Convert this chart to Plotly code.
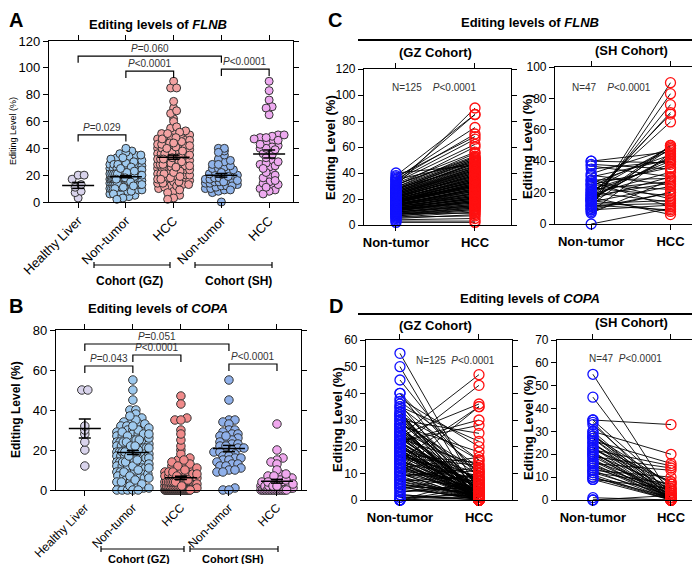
import numpy as np
import plotly.graph_objects as go

# ---------------- DATA ----------------
groups_A = ["Healthy Liver", "Non-tumor", "HCC", "Non-tumor", "HCC"]
paired_labels = ["Non-tumor", "HCC"]

flnb_healthy = [3, 7, 8, 11, 13, 17, 20, 20]
flnb_gz_nt = [
    12, 18, 25, 9, 31, 15, 22, 7, 19, 28, 14, 35, 11, 20, 16, 24, 6, 13, 27, 17,
    21, 10, 33, 19, 8, 23, 15, 29, 12, 18, 38, 14, 22, 5, 26, 16, 20, 11, 30, 17,
    13, 24, 9, 19, 36, 15, 21, 12, 27, 18, 7, 23, 16, 32, 10, 20, 14, 25, 19, 4,
    28, 17, 22, 11, 34, 15, 18, 26, 13, 21, 8, 24, 16, 30, 12, 19, 23, 10, 37, 17,
    14, 20, 27, 9, 22, 15, 31, 18, 11, 25, 16, 3, 21, 13, 29, 19, 24, 12, 17, 33,
    8, 20, 15, 26, 18, 40, 14, 22, 10, 28, 16, 19, 23, 6, 13, 21, 17, 35, 11, 25,
    18, 15, 20, 12, 2]
flnb_gz_hcc = [
    25, 34, 48, 15, 52, 28, 40, 12, 30, 45, 22, 70, 18, 36, 26, 42, 10, 20, 50, 31,
    38, 16, 62, 33, 14, 41, 24, 55, 21, 29, 85, 23, 37, 8, 47, 27, 35, 19, 60, 32,
    20, 44, 13, 30, 75, 25, 39, 17, 49, 34, 11, 43, 28, 56, 15, 36, 22, 46, 33, 5,
    51, 29, 40, 18, 66, 24, 31, 48, 21, 38, 12, 44, 27, 90, 19, 35, 42, 14, 68, 30,
    23, 37, 50, 9, 41, 26, 53, 32, 16, 45, 28, 3, 39, 20, 52, 34, 43, 18, 29, 85,
    13, 36, 24, 47, 31, 46, 22, 40, 15, 51, 27, 33, 42, 7, 21, 38, 30, 48, 17, 44,
    32, 26, 35, 19, 2]
flnb_sh_nt = [0, 7, 8, 9, 10, 10, 11, 12, 12, 13, 14, 14, 15, 15, 16, 16, 17, 17,
              18, 18, 19, 20, 20, 21, 22, 23, 24, 25, 25, 26, 27, 28, 30, 31, 32, 35,
              38, 40, 40, 12, 15, 22, 9, 19, 28, 16, 37]
flnb_sh_hcc = [10, 28, 45, 12, 90, 20, 83, 9, 50, 15, 76, 24, 48, 8, 71, 30, 42, 6,
               70, 26, 65, 40, 14, 49, 38, 18, 47, 22, 36, 44, 11, 29, 41, 25, 48, 40,
               35, 39, 46, 13, 50, 27, 20, 33, 16, 43, 30]

copa_healthy = [12, 20, 24, 28, 30, 32, 50, 50]
copa_gz_nt = [
    55, 50, 45, 40, 40, 38, 36, 35, 34, 33, 32, 32, 31, 30, 30, 29, 28, 28, 27, 27,
    26, 26, 25, 25, 24, 24, 23, 23, 22, 22, 22, 21, 21, 20, 20, 20, 19, 19, 18, 18,
    18, 17, 17, 16, 16, 15, 15, 15, 14, 14, 13, 13, 12, 12, 11, 11, 10, 10, 9, 9,
    8, 8, 7, 7, 6, 6, 5, 5, 4, 3, 2, 1, 0, 0, 0, 35, 33, 31, 29, 27,
    25, 24, 23, 21, 20, 19, 18, 17, 16, 14, 12, 10, 8, 6, 4, 2, 0, 30, 28, 26,
    24, 22, 20, 18, 16, 14, 12, 10, 37, 32, 28, 25, 22, 19, 17, 15, 13, 11, 9, 7,
    5, 3, 1, 0, 21]
copa_gz_hcc = [
    3, 0, 8, 10, 2, 20, 0, 12, 5, 0, 15, 4, 0, 9, 1, 6, 0, 18, 3, 0,
    11, 2, 0, 7, 47, 0, 5, 13, 0, 4, 2, 8, 0, 43, 3, 0, 10, 1, 6, 0,
    2, 14, 0, 5, 0, 35, 3, 0, 8, 1, 0, 4, 16, 0, 2, 7, 0, 3, 12, 0,
    5, 1, 0, 9, 2, 0, 4, 0, 1, 6, 0, 2, 0, 3, 1, 22, 0, 6, 11, 2,
    0, 36, 4, 0, 8, 1, 0, 5, 13, 0, 3, 7, 0, 2, 10, 0, 5, 25, 0, 4,
    1, 30, 3, 0, 9, 2, 6, 0, 15, 1, 0, 4, 28, 0, 7, 3, 0, 35, 11, 2,
    0, 5, 1, 8, 0]
copa_sh_nt = [55, 45, 35, 35, 34, 33, 30, 30, 29, 28, 28, 27, 26, 25, 25, 24, 23, 23,
              22, 21, 21, 20, 20, 19, 19, 18, 17, 17, 16, 16, 15, 15, 14, 13, 13, 12,
              12, 11, 10, 10, 9, 9, 27, 22, 1, 0, 0]
copa_sh_hcc = [2, 0, 33, 5, 0, 3, 20, 1, 0, 7, 4, 0, 16, 2, 0, 8, 0, 3, 15, 1, 0, 6,
               0, 14, 2, 0, 5, 1, 13, 0, 4, 0, 3, 10, 0, 2, 7, 0, 1, 0, 5, 0, 3, 8, 0,
               2, 0]

p_A = [(0, 1, 50, "=0.029"), (1, 2, 97.5, "<0.0001"), (0, 3, 108.8, "=0.060"), (3, 4, 99, "<0.0001")]
p_B = [(0, 1, 62, "=0.043"), (1, 2, 67.5, "<0.0001"), (0, 3, 73, "=0.051"), (3, 4, 63, "<0.0001")]
p_paired = "<0.0001"

# ---------------- STYLE / LAYOUT HELPERS ----------------
W, H = 700, 564
FONT = "Liberation Sans, Arial, sans-serif"


def px(x):
    return x / W


def py(y):
    return 1 - y / H


colors_A = ["#d9d4ec", "#9ec9ee", "#f3a2a2", "#8fb3ea", "#eeaaf0"]
colors_B = ["#d9d4ec", "#9ec9ee", "#f08a8a", "#8fb0ea", "#f0a8ee"]


def swarm_offsets(vals, yscale, xscale, binpx=5.0, step=6.0, maxw=32.0):
    vals = np.asarray(vals, float)
    order = np.argsort(vals, kind="stable")
    bins = {}
    for i in order:
        b = int(round(vals[i] * yscale / binpx))
        bins.setdefault(b, []).append(i)
    off = np.zeros(len(vals))
    for b, idx in bins.items():
        k = len(idx)
        if k == 1:
            continue
        w = min((k - 1) * step, maxw)
        for j, i in enumerate(idx):
            off[i] = -w / 2 + w * j / (k - 1)
    return off / xscale


fig = go.Figure()


def scatter_panel(groups, colors, xa, ya, yscale, xscale, msize):
    mx, my = [], []
    for gi, vals in enumerate(groups):
        off = swarm_offsets(vals, yscale, xscale)
        fig.add_trace(go.Scatter(
            x=gi + off, y=vals, mode="markers", xaxis=xa, yaxis=ya,
            marker=dict(size=msize, color=colors[gi], line=dict(color="#333333", width=1)),
            cliponaxis=False, showlegend=False, hoverinfo="y"))
        v = np.asarray(vals, float)
        m = v.mean()
        s = v.std(ddof=1) / np.sqrt(len(v))
        hw = 16 / xscale
        cw = 6 / xscale
        mx += [gi - hw, gi + hw, None, gi, gi, None, gi - cw, gi + cw, None, gi - cw, gi + cw, None]
        my += [m, m, None, m - s, m + s, None, m + s, m + s, None, m - s, m - s, None]
    fig.add_trace(go.Scatter(x=mx, y=my, mode="lines", xaxis=xa, yaxis=ya,
                             line=dict(color="black", width=1.5), cliponaxis=False,
                             showlegend=False, hoverinfo="skip"))


def paired_panel(nt, hcc, xa, ya):
    xs, ys = [], []
    for a, b in zip(nt, hcc):
        xs += [0, 1, None]
        ys += [a, b, None]
    fig.add_trace(go.Scatter(x=xs, y=ys, mode="lines", xaxis=xa, yaxis=ya,
                             line=dict(color="black", width=0.9), cliponaxis=False,
                             showlegend=False, hoverinfo="skip"))
    fig.add_trace(go.Scatter(x=[0] * len(nt), y=nt, mode="markers", xaxis=xa, yaxis=ya,
                             marker=dict(symbol="circle-open", size=10, color="#1010ff",
                                         line=dict(width=1.3)),
                             cliponaxis=False, showlegend=False))
    fig.add_trace(go.Scatter(x=[1] * len(hcc), y=hcc, mode="markers", xaxis=xa, yaxis=ya,
                             marker=dict(symbol="circle-open", size=10, color="#ff1010",
                                         line=dict(width=1.3)),
                             cliponaxis=False, showlegend=False))


scatter_panel([flnb_healthy, flnb_gz_nt, flnb_gz_hcc, flnb_sh_nt, flnb_sh_hcc],
              colors_A, "x", "y", 161 / 120, 47.75, 8)
scatter_panel([copa_healthy, copa_gz_nt, copa_gz_hcc, copa_sh_nt, copa_sh_hcc],
              colors_B, "x2", "y2", 2.0, 48.0, 8.5)
paired_panel(flnb_gz_nt, flnb_gz_hcc, "x3", "y3")
paired_panel(flnb_sh_nt, flnb_sh_hcc, "x4", "y4")
paired_panel(copa_gz_nt, copa_gz_hcc, "x5", "y5")
paired_panel(copa_sh_nt, copa_sh_hcc, "x6", "y6")

common = dict(showline=True, linecolor="black", linewidth=1.2, mirror="ticks",
              ticks="outside", ticklen=5, tickwidth=1.2, tickcolor="black",
              showgrid=False, zeroline=False, automargin=False)


def xax(x0, x1, rng, labels, anchor, angle, size, bold):
    tt = [("<b>%s</b>" % t) if bold else t for t in labels]
    return dict(domain=[px(x0), px(x1)], range=rng, tickmode="array",
                tickvals=list(range(len(labels))), ticktext=tt, tickangle=angle,
                anchor=anchor, tickfont=dict(size=size, color="black", family=FONT), **common)


def yax(ytop, ybot, top, dt, anchor, size=12):
    return dict(domain=[py(ybot), py(ytop)], range=[0, top], tickmode="linear", tick0=0,
                dtick=dt, anchor=anchor, tickfont=dict(size=size, color="black", family=FONT),
                **common)


layout = dict(
    width=W, height=H, autosize=False, template="none",
    margin=dict(l=0, r=0, t=0, b=0), paper_bgcolor="white", plot_bgcolor="white",
    font=dict(family=FONT, color="black"), showlegend=False,
    xaxis=xax(41, 285, [-0.61, 4.5], groups_A, "y", -45, 13, False),
    yaxis=yax(33, 194, 120, 20, "x", 13),
    xaxis2=xax(48, 293, [-0.6, 4.5], groups_A, "y2", -45, 12, False),
    yaxis2=yax(322, 482, 80, 20, "x2", 13),
    xaxis3=xax(356, 503, [-0.405, 1.456], paired_labels, "y3", 0, 13, True),
    yaxis3=yax(61, 217, 120, 20, "x3"),
    xaxis4=xax(547, 695, [-0.456, 1.41], paired_labels, "y4", 0, 13, True),
    yaxis4=yax(59, 216, 100, 20, "x4"),
    xaxis5=xax(358, 504, [-0.43, 1.418], paired_labels, "y5", 0, 13, True),
    yaxis5=yax(332, 492, 60, 10, "x5"),
    xaxis6=xax(549, 695, [-0.46, 1.41], paired_labels, "y6", 0, 13, True),
    yaxis6=yax(332, 492, 70, 10, "x6"),
)
fig.update_layout(**layout)

ann = []
shapes = []


def text(x, y, t, size, angle=0, color="black"):
    ann.append(dict(x=px(x), y=py(y), xref="paper", yref="paper", text=t, showarrow=False,
                    textangle=angle, xanchor="center", yanchor="middle",
                    font=dict(size=size, color=color, family=FONT)))


def pline(x0, y0, x1, y1, w=1.2):
    shapes.append(dict(type="line", xref="paper", yref="paper", x0=px(x0), y0=py(y0),
                       x1=px(x1), y1=py(y1), line=dict(color="black", width=w)))


# panel letters
text(8, 12, "<b>A</b>", 20)
text(8, 298, "<b>B</b>", 20)
text(327, 12, "<b>C</b>", 20)
text(328, 298, "<b>D</b>", 20)

# titles
text(150, 16, "<b>Editing levels of <i>FLNB</i></b>", 13)
text(150, 300, "<b>Editing levels of <i>COPA</i></b>", 13)
text(522, 15, "<b>Editing levels of <i>FLNB</i></b>", 13)
text(522, 290, "<b>Editing levels of <i>COPA</i></b>", 13)
pline(350, 32, 698, 32, 2)
pline(350, 306, 698, 306, 2)
text(427, 44, "<b>(GZ Cohort)</b>", 13)
text(623, 42, "<b>(SH Cohort)</b>", 13)
text(427, 317, "<b>(GZ Cohort)</b>", 13)
text(623, 315, "<b>(SH Cohort)</b>", 13)

# y titles
text(5, 123, "Editing Level (%)", 9, -90)
text(8, 402, "<b>Editing Level (%)</b>", 12, -90)
text(322, 140, "<b>Editing Level (%)</b>", 13, -90)
text(519, 139, "<b>Editing Level (%)</b>", 13, -90)
text(329, 412, "<b>Editing Level (%)</b>", 13, -90)
text(520, 420, "<b>Editing Level (%)</b>", 13, -90)

# N / P annotations
text(426, 79, "N=%d    <i>P</i>%s" % (len(flnb_gz_nt), p_paired), 10, color="#333333")
text(603, 79, "N=%d    <i>P</i>%s" % (len(flnb_sh_nt), p_paired), 10, color="#333333")
text(447, 352, "N=%d  <i>P</i>%s" % (len(copa_gz_nt), p_paired), 10, color="#333333")
text(617, 350, "N=%d  <i>P</i>%s" % (len(copa_sh_nt), p_paired), 10, color="#333333")

# cohort brackets
for (x0, x1, yy, lab, tx, ty, fs) in [(86, 162, 257, "Cohort (GZ)", 121, 273, 12),
                                      (187, 264, 257, "Cohort (SH)", 230, 273, 12),
                                      (93, 176, 541, "Cohort (GZ)", 131, 551, 11),
                                      (182, 270, 541, "Cohort (SH)", 225, 551, 11)]:
    pline(x0, yy, x1, yy)
    pline(x0, yy - 3, x0, yy + 3)
    pline(x1, yy - 3, x1, yy + 3)
    text(tx, ty, "<b>%s</b>" % lab, fs)

# significance brackets
for (plist, xa, ya, drop) in [(p_A, "x", "y", 5.0), (p_B, "x2", "y2", 3.5)]:
    for (a, b, h, t) in plist:
        shapes.append(dict(type="path", xref=xa, yref=ya,
                           path="M %g,%g L %g,%g L %g,%g L %g,%g" % (a, h - drop, a, h, b, h, b, h - drop),
                           line=dict(color="black", width=1.2)))
        ann.append(dict(x=(a + b) / 2, y=h, xref=xa, yref=ya, text="<i>P</i>" + t,
                        showarrow=False, xanchor="center", yanchor="bottom", yshift=0,
                        font=dict(size=10, color="#333333", family=FONT)))

fig.update_layout(annotations=ann, shapes=shapes)
fig.write_html("out.html")
